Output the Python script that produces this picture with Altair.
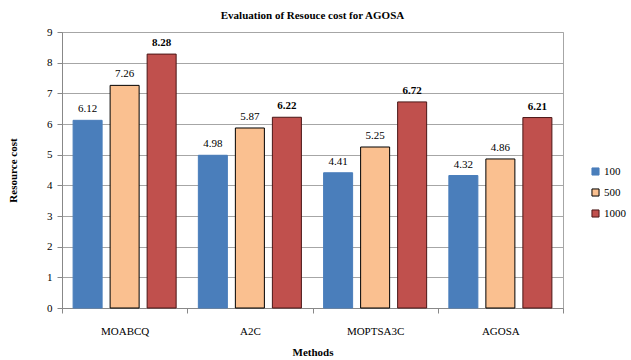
import altair as alt
import pandas as pd

methods = ["MOABCQ", "A2C", "MOPTSA3C", "AGOSA"]
series = ["100", "500", "1000"]
v100 = [6.12, 4.98, 4.41, 4.32]
v500 = [7.26, 5.87, 5.25, 4.86]
v1000 = [8.28, 6.22, 6.72, 6.21]

rows = []
for i, m in enumerate(methods):
    for s, vals in zip(series, [v100, v500, v1000]):
        rows.append({"Method": m, "Series": s, "Value": vals[i], "Label": f"{vals[i]:.2f}"})
df = pd.DataFrame(rows)

FONT = "'Liberation Serif', 'Times New Roman', serif"
FS = 11

x = alt.X("Method:N", sort=methods, title="Methods",
          scale=alt.Scale(paddingInner=0, paddingOuter=0),
          axis=alt.Axis(labelAngle=0, tickBand="extent", labelPadding=12,
                        titlePadding=10, domainColor="#888", tickColor="#888",
                        labelFontSize=FS, titleFontSize=FS, titleFontWeight="bold",
                        labelColor="#000", titleColor="#000",
                        labelFont=FONT, titleFont=FONT))
xo = alt.XOffset("Series:N", sort=series,
                 scale=alt.Scale(paddingInner=0.216, paddingOuter=0.3))
y = alt.Y("Value:Q", title="Resource cost",
          scale=alt.Scale(domain=[0, 9], nice=False),
          axis=alt.Axis(values=list(range(10)), tickCount=10, gridColor="#a6a6a6",
                        domainColor="#888", tickColor="#888", labelPadding=5,
                        titlePadding=28, labelFontSize=FS, titleFontSize=FS,
                        titleFontWeight="bold", labelColor="#000", titleColor="#000",
                        labelFont=FONT, titleFont=FONT))

colors = ["#4a7ebb", "#fac090", "#c0504d"]
strokes = ["#4a7ebb", "#000000", "#4a1616"]

bars = alt.Chart(df).mark_bar(strokeWidth=1).encode(
    x=x, xOffset=xo, y=y,
    fill=alt.Fill("Series:N", sort=series, title=None,
                  scale=alt.Scale(domain=series, range=colors),
                  legend=alt.Legend(labelFont=FONT)),
    stroke=alt.Stroke("Series:N", sort=series, title=None,
                      scale=alt.Scale(domain=series, range=strokes)),
)

txt_norm = alt.Chart(df).transform_filter(alt.datum.Series != "1000").mark_text(
    baseline="bottom", dy=-6, font=FONT, fontSize=FS, color="#000"
).encode(x=alt.X("Method:N", sort=methods), xOffset=xo, y="Value:Q", text="Label:N")

txt_bold = alt.Chart(df).transform_filter(alt.datum.Series == "1000").mark_text(
    baseline="bottom", dy=-6, font=FONT, fontSize=FS, fontWeight="bold", color="#000"
).encode(x=alt.X("Method:N", sort=methods), xOffset=xo, y="Value:Q", text="Label:N")

chart = alt.layer(bars, txt_norm, txt_bold).properties(
    width=501, height=276,
    title=alt.Title("Evaluation of Resouce cost for AGOSA", fontSize=FS,
                    fontWeight="bold", font=FONT, color="#000", offset=5),
    autosize=alt.AutoSizeParams(type="none"),
    padding={"left": 62, "top": 32, "right": 68, "bottom": 52},
).configure(font=FONT).configure_view(stroke="#a6a6a6").configure_axis(
    labelFont=FONT, titleFont=FONT, tickSize=5
).configure_text(font=FONT).configure_legend(
    orient="none", legendX=528, legendY=134, labelFont=FONT, labelFontSize=FS,
    labelColor="#000", symbolType="square", symbolSize=50, rowPadding=8,
    labelOffset=3, symbolStrokeWidth=1
)

chart.save("out.html", embed_options={"renderer": "svg", "actions": False})
